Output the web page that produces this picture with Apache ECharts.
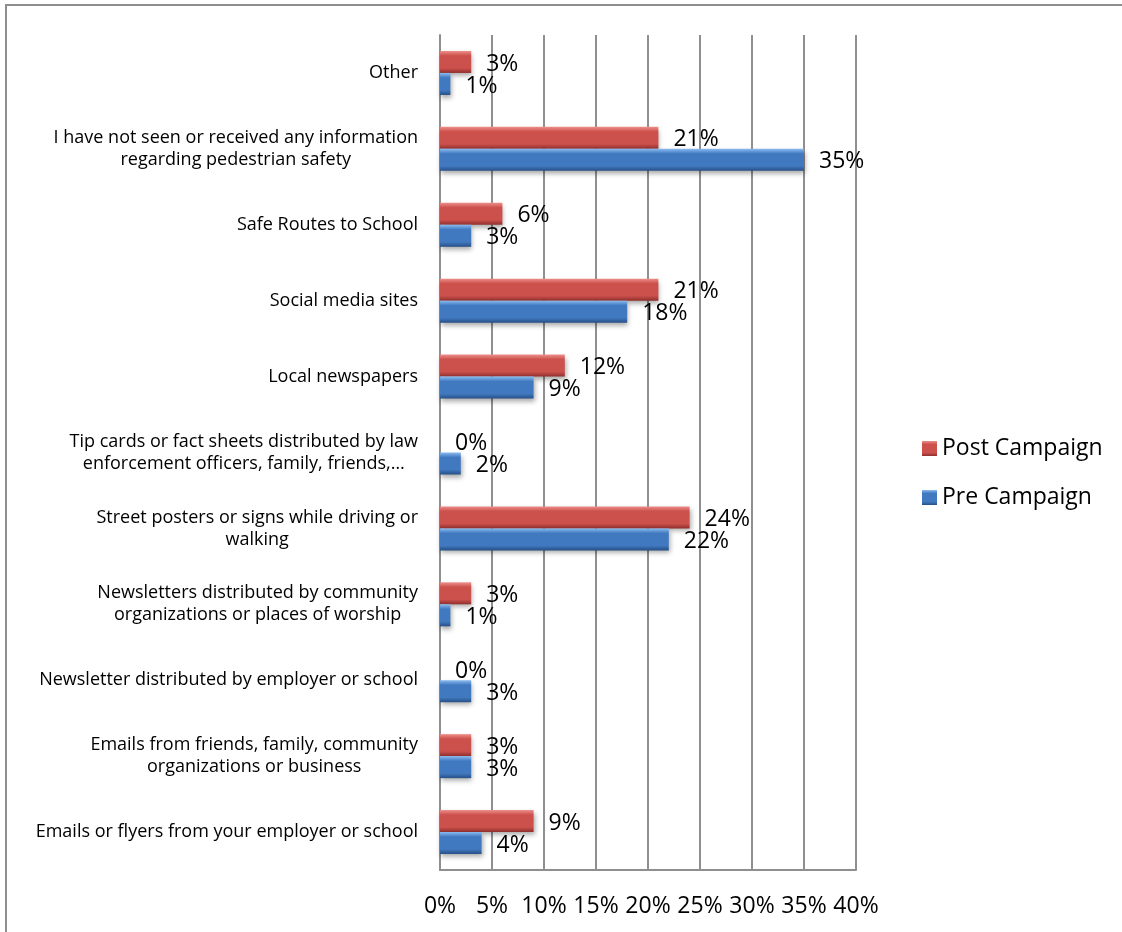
<!DOCTYPE html>
<html>
<head>
<meta charset="utf-8">
<script src="https://cdn.jsdelivr.net/npm/echarts@6/dist/echarts.min.js"></script>
<style>
  html, body { margin: 0; padding: 0; background: #fff; }
  #chart { width: 1122px; height: 932px; }
</style>
</head>
<body>
<div id="chart"></div>
<script>
// Information sources, top to bottom
const categories = [
  'Other',
  'I have not seen or received any information\nregarding pedestrian safety',
  'Safe Routes to School',
  'Social media sites',
  'Local newspapers',
  'Tip cards or fact sheets distributed by law\nenforcement officers, family, friends,…',
  'Street posters or signs while driving or\nwalking',
  'Newsletters distributed by community\norganizations or places of worship',
  'Newsletter distributed by employer or school',
  'Emails from friends, family, community\norganizations or business',
  'Emails or flyers from your employer or school'
];
const seriesNames = ['Post Campaign', 'Pre Campaign'];
const postCampaign = [3, 21, 6, 21, 12, 0, 24, 3, 0, 3, 9];
const preCampaign  = [1, 35, 3, 18, 9, 2, 22, 1, 3, 3, 4];
const xTicks = { min: 0, max: 40, step: 5 };

const FONT = '"Open Sans", "Noto Sans", sans-serif';
const GRID_COLOR = '#8f8f8f';

function bevel(top, mid, bottom) {
  return new echarts.graphic.LinearGradient(0, 0, 0, 1, [
    { offset: 0, color: top },
    { offset: 0.22, color: mid },
    { offset: 0.78, color: mid },
    { offset: 1, color: bottom }
  ]);
}
const redFill = bevel('#ee8f8b', '#cc504c', '#8f2f2c');
const blueFill = bevel('#8abbf0', '#4179c0', '#264f86');

const chart = echarts.init(document.getElementById('chart'), null, { renderer: 'canvas' });

const labelCfg = {
  show: true,
  position: 'right',
  distance: 15,
  offset: [0, 2],
  formatter: p => p.value + '%',
  fontFamily: FONT,
  fontSize: 23,
  color: '#000'
};

const barShadow = {
  shadowColor: 'rgba(0,0,0,0.35)',
  shadowBlur: 5,
  shadowOffsetY: 3,
  shadowOffsetX: 1
};

chart.setOption({
  animation: false,
  backgroundColor: '#fff',
  textStyle: { fontFamily: FONT },
  graphic: [{
    type: 'rect',
    shape: { x: 6, y: 5, width: 1300, height: 1100 },
    style: { fill: 'none', stroke: '#8e8e8e', lineWidth: 2 },
    silent: true
  }],
  grid: { left: 440, right: 266, top: 35, bottom: 62, containLabel: false },
  legend: {
    orient: 'vertical',
    left: 917,
    top: 432,
    itemWidth: 15,
    itemHeight: 15,
    itemGap: 26,
    icon: 'rect',
    textStyle: { fontFamily: FONT, fontSize: 23, color: '#000' },
    data: seriesNames
  },
  xAxis: {
    type: 'value',
    min: xTicks.min,
    max: xTicks.max,
    interval: xTicks.step,
    axisLine: { show: true, lineStyle: { color: GRID_COLOR, width: 2 } },
    axisTick: { show: false },
    splitLine: { show: true, lineStyle: { color: GRID_COLOR, width: 2 } },
    axisLabel: {
      formatter: '{value}%',
      margin: 25,
      fontFamily: FONT,
      fontSize: 23,
      color: '#000'
    }
  },
  yAxis: {
    type: 'category',
    inverse: true,
    data: categories,
    axisLine: { show: true, lineStyle: { color: GRID_COLOR, width: 2 } },
    axisTick: { show: false },
    axisLabel: {
      margin: 22,
      interval: 0,
      fontFamily: FONT,
      fontSize: 18,
      lineHeight: 22,
      color: '#000',
      formatter: v => v.split('\n').map(l => '{c|' + l + '}').join('\n'),
      rich: { c: { align: 'center', fontFamily: FONT, fontSize: 18, lineHeight: 22, color: '#000' } }
    }
  },
  series: [
    {
      name: seriesNames[0],
      type: 'bar',
      data: postCampaign,
      barWidth: 22,
      barGap: '0%',
      itemStyle: Object.assign({ color: redFill }, barShadow),
      label: labelCfg
    },
    {
      name: seriesNames[1],
      type: 'bar',
      data: preCampaign,
      barWidth: 22,
      barGap: '0%',
      itemStyle: Object.assign({ color: blueFill }, barShadow),
      label: labelCfg
    }
  ]
});
</script>
</body>
</html>
